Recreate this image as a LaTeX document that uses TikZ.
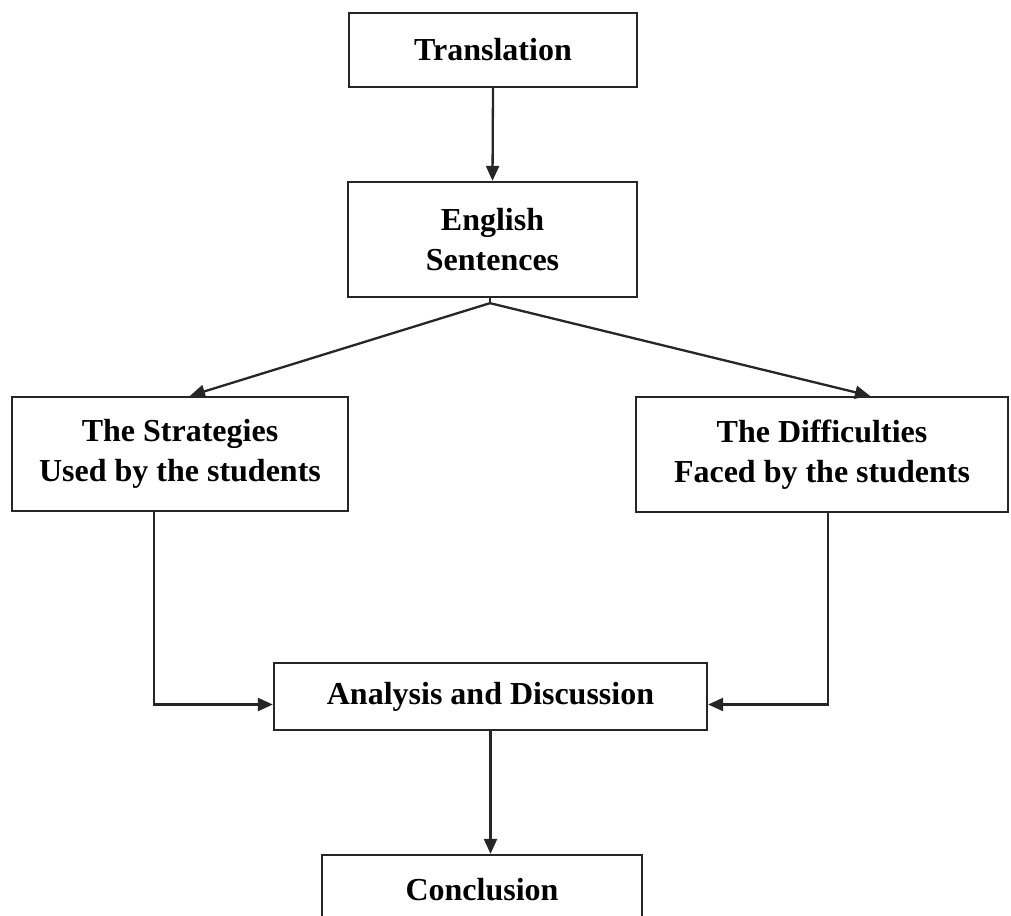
\documentclass[tikz,border=0pt]{standalone}
\usepackage{fontspec}
\setmainfont{Liberation Serif}
\usetikzlibrary{arrows.meta,calc}
\begin{document}
\begin{tikzpicture}[x=1pt,y=-1pt,
  box/.style={draw=black!85, line width=2.3pt, rectangle, inner sep=0pt, align=center,
    font=\fontsize{32}{40}\selectfont\bfseries},
  conn/.style={draw=black!85, line width=2.3pt},
  arr/.style={conn, -{Triangle[length=15pt,width=13pt]}}]
\clip (0,0) rectangle (1011,915);
\fill[white] (0,0) rectangle (1011,915);
\node[box, minimum width=288pt, minimum height=74pt] (trans) at (493,50) {Translation};
\node[box, minimum width=289pt, minimum height=115pt] (eng) at (492.5,239.5) {English\\Sentences};
\node[box, minimum width=336pt, minimum height=114pt] (strat) at (180,454) {The Strategies\\Used by the students};
\node[box, minimum width=372pt, minimum height=115pt] (diff) at (822,454.5) {The Difficulties\\Faced by the students};
\node[box, minimum width=433pt, minimum height=67pt] (anal) at (490.5,696.5) {Analysis and Discussion};
\node[box, minimum width=320pt, minimum height=70pt] (concl) at (482,890) {Conclusion};
\coordinate (split) at ($(eng.south)+(-2.5,5)$);
\draw[arr] (trans.south) -- (eng.north);
\draw[conn] (eng.south) ++(-2.5,0) -- (split);
\draw[arr] (split) -- ([xshift=10pt]strat.north);
\draw[arr] (split) -- ([xshift=48pt]diff.north);
\draw[arr] ([xshift=-26pt]strat.south) |- ([yshift=-8pt]anal.west);
\draw[arr] ([xshift=6pt]diff.south) |- ([yshift=-8pt]anal.east);
\draw[arr] (anal.south) -- (anal.south |- concl.north);
\end{tikzpicture}
\end{document}
